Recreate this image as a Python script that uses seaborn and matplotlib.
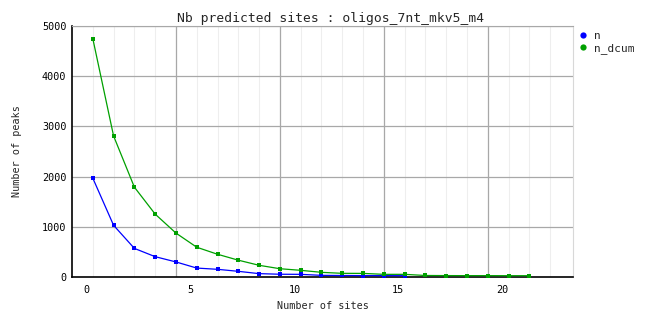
import matplotlib
matplotlib.use("Agg")
import matplotlib.pyplot as plt
import seaborn as sns
import numpy as np
import pandas as pd

# ---- data ----
sites_n = list(range(0, 16))
n = [1970, 1030, 570, 405, 300, 178, 153, 113, 67, 55, 53, 33, 30, 28, 27, 26]
sites_dcum = list(range(0, 22))
n_dcum = [4750, 2810, 1790, 1253, 875, 593, 453, 335, 233, 165, 133, 93, 73, 72, 53, 53,
          30, 28, 27, 27, 26, 26]
x_tick_labels = ["0", "5", "10", "15", "20"]
y_ticks = [0, 1000, 2000, 3000, 4000, 5000]

title = "Nb predicted sites : oligos_7nt_mkv5_m4"
xlabel = "Number of sites"
ylabel = "Number of peaks"

df = pd.concat([
    pd.DataFrame({"sites": sites_n, "peaks": n, "series": "n"}),
    pd.DataFrame({"sites": sites_dcum, "peaks": n_dcum, "series": "n_dcum"}),
], ignore_index=True)

sns.set_style("white")
plt.rcParams["font.family"] = ["DejaVu Sans Mono", "DejaVu Sans"]

fig = plt.figure(figsize=(6.62, 3.28), dpi=100)
ax = fig.add_axes([72/662, 1-277/328, (573-72)/662, (277-26)/328])

palette = {"n": "#0000ff", "n_dcum": "#00a000"}
sns.lineplot(data=df, x="sites", y="peaks", hue="series", palette=palette,
             marker="s", markersize=3.2, markeredgewidth=0, linewidth=0.9,
             ax=ax, legend=False, zorder=3)

ax.set_xlim(-1, 23.1)
ax.set_ylim(0, 5000)

# grid
for xm in range(0, 23):
    ax.axvline(xm, color="#eeeeee", linewidth=0.8, zorder=0)
for xM in range(4, 23, 5):
    ax.axvline(xM, color="#a8a8a8", linewidth=0.9, zorder=1)
for yv in y_ticks[1:]:
    ax.axhline(yv, color="#a8a8a8", linewidth=0.9, zorder=1)

ax.set_xticks([-0.3 + 5 * i for i in range(len(x_tick_labels))])
ax.set_xticklabels(x_tick_labels)
ax.set_yticks(y_ticks)
ax.set_yticklabels([str(v) for v in y_ticks])
ax.tick_params(axis="both", length=0, labelsize=7.3, colors="black")
ax.tick_params(axis="x", pad=6)
ax.tick_params(axis="y", pad=4)

for s in ["top", "right"]:
    ax.spines[s].set_color("#d8d8d8")
    ax.spines[s].set_linewidth(0.8)
ax.spines["top"].set_color("#a8a8a8")
for s in ["left", "bottom"]:
    ax.spines[s].set_color("black")
    ax.spines[s].set_linewidth(1.2)

ax.set_xlabel(xlabel, fontsize=7.3, labelpad=4)
ax.set_ylabel(ylabel, fontsize=7.3, labelpad=14)
fig.text(0.5, 1 - 18.5/328, title, ha="center", va="center", fontsize=9.4)

# legend
from matplotlib.lines import Line2D
handles = [Line2D([], [], marker="o", linestyle="none", color=palette[k],
                  markersize=4.5, markeredgewidth=0) for k in ["n", "n_dcum"]]
leg = fig.legend(handles, ["n", "n_dcum"], loc="upper left",
                 bbox_to_anchor=(571/662, 1 - 23/328), frameon=False,
                 fontsize=8, handlelength=0.8, handletextpad=0.6,
                 labelspacing=0.2, borderpad=0.2)

fig.savefig("out.png", dpi=100)
